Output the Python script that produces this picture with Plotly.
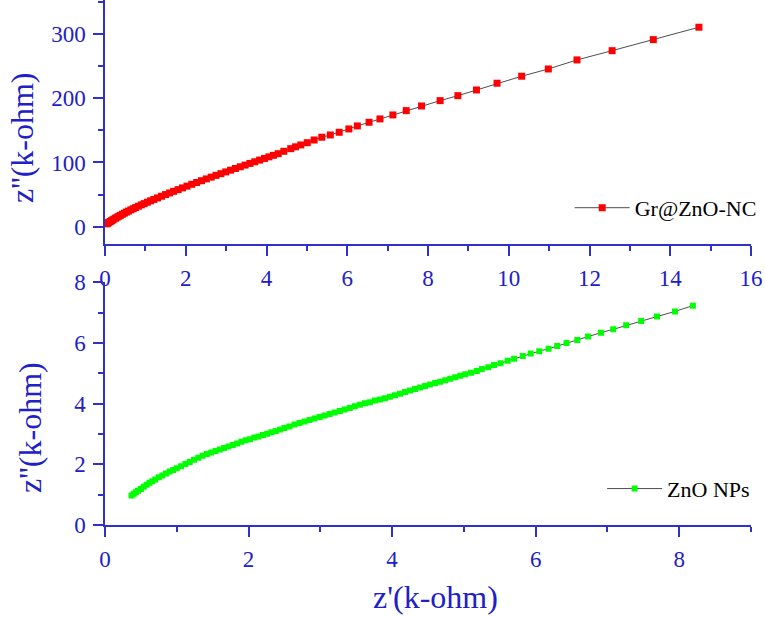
import plotly.graph_objects as go

# ---------------- data ----------------
gr_x = [0.04, 0.06, 0.08, 0.10, 0.13, 0.16, 0.19, 0.22, 0.26, 0.30, 0.34, 0.38, 0.43, 0.48,
        0.53, 0.58, 0.64, 0.70, 0.76, 0.83, 0.90, 0.97, 1.05, 1.13, 1.21, 1.30, 1.40, 1.50,
        1.60, 1.70, 1.81, 1.92, 2.03, 2.15, 2.27, 2.39, 2.51, 2.63, 2.75, 2.87, 2.99, 3.11,
        3.23, 3.35, 3.47, 3.59, 3.71, 3.83, 3.95, 4.06, 4.17,
        4.29, 4.43, 4.60, 4.72, 4.85, 5.01, 5.18, 5.37, 5.58, 5.80, 6.04, 6.25, 6.54, 6.81,
        7.13, 7.46, 7.84, 8.30, 8.74, 9.20, 9.71, 10.32, 10.98, 11.69, 12.56, 13.58, 14.71]
gr_y = [4.4, 5.2, 6.0, 6.9, 8.1, 9.3, 10.5, 11.7, 13.2, 14.7, 16.2, 17.6, 19.3, 21.0,
        22.7, 24.3, 26.2, 28.0, 29.8, 31.9, 33.9, 35.9, 38.1, 40.3, 42.4, 44.8, 47.4, 50.0,
        52.5, 55.0, 57.7, 60.4, 63.1, 66.0, 68.8, 71.6, 74.4, 77.2, 79.9, 82.6, 85.3, 88.0,
        90.6, 93.3, 95.9, 98.5, 101.1, 103.7, 106.3, 108.7, 111.1,
        113.7, 117.4, 121.5, 124.4, 127.3, 130.8, 135.0, 139.3, 142.8, 147.0, 152.2, 156.9, 162.6, 167.8,
        174.0, 180.7, 188.0, 196.3, 204.0, 212.9, 223.4, 234.3, 245.6, 259.7, 274.1, 291.3, 310.6]

zno_x = [0.37, 0.40, 0.43, 0.46, 0.50, 0.54, 0.58, 0.62, 0.66, 0.70, 0.75, 0.80, 0.85, 0.90,
         0.95, 1.00, 1.06, 1.12, 1.18, 1.24, 1.30, 1.36, 1.42, 1.48, 1.54, 1.60, 1.66, 1.72,
         1.78, 1.84, 1.90, 1.96, 2.02, 2.08, 2.14, 2.20, 2.26, 2.32, 2.38, 2.44, 2.50, 2.57,
         2.64, 2.71, 2.78, 2.85, 2.92, 2.99, 3.06, 3.13, 3.20, 3.27, 3.34, 3.41, 3.48, 3.55,
         3.62, 3.69, 3.76, 3.83, 3.90, 3.97, 4.04, 4.11, 4.18, 4.25, 4.32, 4.39, 4.46, 4.53,
         4.60, 4.67, 4.74, 4.81, 4.88, 4.95, 5.02, 5.10,
         5.18, 5.25, 5.34, 5.42, 5.51, 5.61, 5.70, 5.82, 5.93, 6.05, 6.18, 6.30, 6.43, 6.58,
         6.73, 6.91, 7.08, 7.26, 7.47, 7.69, 7.94, 8.19]
zno_y = [0.97, 1.03, 1.08, 1.13, 1.19, 1.26, 1.33, 1.39, 1.44, 1.50, 1.57, 1.63, 1.70, 1.76,
         1.81, 1.87, 1.94, 2.01, 2.08, 2.15, 2.22, 2.28, 2.34, 2.39, 2.44, 2.49, 2.54, 2.59,
         2.64, 2.69, 2.74, 2.79, 2.83, 2.88, 2.92, 2.97, 3.01, 3.06, 3.10, 3.15, 3.20, 3.25,
         3.31, 3.36, 3.41, 3.46, 3.51, 3.56, 3.61, 3.66, 3.71, 3.76, 3.81, 3.86, 3.91, 3.96,
         4.01, 4.05, 4.10, 4.14, 4.18, 4.23, 4.28, 4.33, 4.38, 4.43, 4.48, 4.53, 4.58, 4.63,
         4.68, 4.72, 4.77, 4.82, 4.87, 4.92, 4.97, 5.02,
         5.08, 5.14, 5.20, 5.27, 5.33, 5.41, 5.48, 5.57, 5.65, 5.73, 5.81, 5.90, 6.00, 6.10,
         6.21, 6.34, 6.45, 6.58, 6.72, 6.87, 7.04, 7.23]

series_names = ["Gr@ZnO-NC", "ZnO NPs"]
y_title = "z''(k-ohm)"
x_title = "z'(k-ohm)"

# ---------------- styling ----------------
FONT = "'Liberation Serif', 'Times New Roman', serif"
AXIS_BLUE = "#3030cc"
LABEL_BLUE = "#2020c8"
XDOM = [0, 0.9788]

fig = go.Figure()
fig.add_trace(go.Scatter(
    x=gr_x, y=gr_y, mode="lines+markers", name=series_names[0],
    line=dict(color="black", width=0.7),
    marker=dict(symbol="square", size=7, color="#ff0000", line=dict(width=0)),
    xaxis="x", yaxis="y", legend="legend"))
fig.add_trace(go.Scatter(
    x=zno_x, y=zno_y, mode="lines+markers", name=series_names[1],
    line=dict(color="black", width=0.7),
    marker=dict(symbol="square", size=6, color="#00ff00", line=dict(width=0)),
    xaxis="x2", yaxis="y2", legend="legend2"))


def axis(rng, dtick, minor_dtick, **kw):
    d = dict(
        range=rng, tick0=0, dtick=dtick, showline=True, linecolor=AXIS_BLUE, linewidth=1.5,
        ticks="outside", ticklen=10, tickwidth=1.5, tickcolor=AXIS_BLUE,
        tickfont=dict(family=FONT, size=23, color=LABEL_BLUE),
        showgrid=False, zeroline=False, mirror=False, ticklabelstandoff=3,
        automargin=False,
        minor=dict(ticks="outside", ticklen=5, tickwidth=1.5, tickcolor=AXIS_BLUE,
                   tick0=0, dtick=minor_dtick, showgrid=False),
    )
    d.update(kw)
    return d


fig.update_layout(
    width=765, height=617,
    margin=dict(l=105, r=0, t=0, b=92, autoexpand=False),
    paper_bgcolor="white", plot_bgcolor="white",
    font=dict(family=FONT),
    xaxis=axis([0, 16], 2, 1, domain=XDOM, anchor="y"),
    yaxis=axis([-27, 353], 100, 50, domain=[0.5352, 1], anchor="x"),
    xaxis2=axis([0, 9], 2, 1, domain=XDOM, anchor="y2"),
    yaxis2=axis([0, 8], 2, 1, domain=[0, 0.4623], anchor="x2"),
    legend=dict(x=0.995, y=0.604, xanchor="right", yanchor="middle",
                bgcolor="rgba(0,0,0,0)", itemwidth=55,
                font=dict(family=FONT, size=22, color="black")),
    legend2=dict(x=0.985, y=0.069, xanchor="right", yanchor="middle",
                 bgcolor="rgba(0,0,0,0)", itemwidth=55,
                 font=dict(family=FONT, size=22, color="black")),
    showlegend=True,
)

title_font = dict(family=FONT, size=32, color=LABEL_BLUE)
fig.add_annotation(text=y_title, xref="paper", yref="paper", x=(22 - 105) / 660, y=0.737,
                   textangle=-90, showarrow=False, font=title_font,
                   xanchor="center", yanchor="middle")
fig.add_annotation(text=y_title, xref="paper", yref="paper", x=(30 - 105) / 660, y=0.185,
                   textangle=-90, showarrow=False, font=title_font,
                   xanchor="center", yanchor="middle")
fig.add_annotation(text=x_title, xref="paper", yref="paper", x=(435 - 105) / 660, y=-0.137,
                   showarrow=False, font=title_font,
                   xanchor="center", yanchor="middle")

fig.write_html("out.html", config={"displayModeBar": False},
               post_script="document.body.style.margin='0px';")
